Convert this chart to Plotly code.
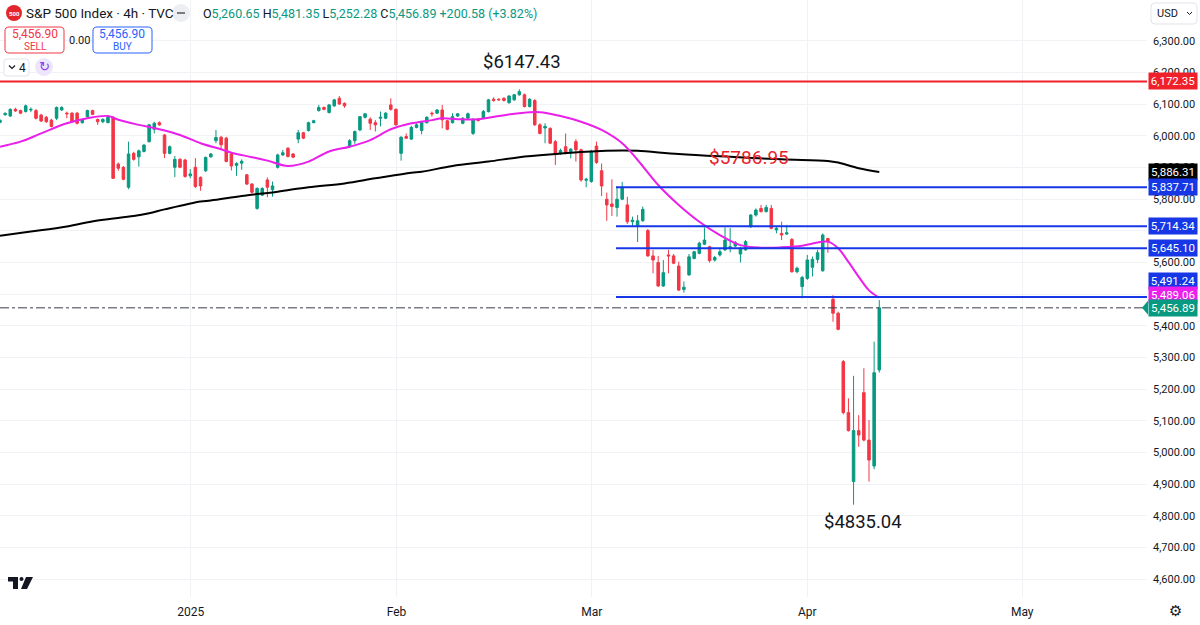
import plotly.graph_objects as go

# 4h bars of the S&P 500, mid Dec 2024 -> 10 Apr 2025 (bar index 0..171)
opens = [6043, 6067, 6063, 6084, 6080, 6077, 6082, 6080, 6066, 6059,
         6050, 6056, 6082, 6072, 6072, 6072, 6042, 6061, 6080, 6052,
         6045, 6042, 6059, 5911, 5901, 5838, 5945, 5934, 5951, 5982,
         6021, 6042, 6003, 5945, 5901, 5926, 5924, 5874, 5901, 5869,
         5890, 5934, 5985, 5996, 5993, 5943, 5907, 5914, 5877, 5848,
         5771, 5813, 5861, 5830, 5901, 5940, 5961, 5943, 5990, 6010,
         6017, 6042, 6080, 6090, 6074, 6095, 6119, 6103, 5966, 5985,
         6019, 6059, 6053, 6042, 6056, 6056, 6098, 6084, 5945, 5998,
         5990, 6027, 6017, 6042, 6072, 6072, 6082, 6048, 6042, 6063,
         6040, 6056, 6008, 6053, 6056, 6077, 6116, 6116, 6119, 6105,
         6114, 6130, 6130, 6093, 6112, 6035, 6025, 6024, 5982, 5945,
         5966, 5950, 5982, 5956, 5860, 5856, 5968, 5890, 5800, 5785,
         5774, 5800, 5782, 5729, 5716, 5732, 5701, 5621, 5600, 5526,
         5624, 5621, 5589, 5515, 5561, 5613, 5629, 5658, 5650, 5608,
         5624, 5640, 5645, 5652, 5627, 5640, 5713, 5750, 5771, 5761,
         5771, 5703, 5692, 5690, 5673, 5571, 5524, 5550, 5585, 5610,
         5574, 5676, 5484, 5440, 5287, 5126, 4908, 5069, 5189, 5039,
         4957, 5260.65]
highs = [6053, 6075, 6087, 6089, 6083, 6099, 6090, 6085, 6070, 6063,
         6054, 6093, 6094, 6077, 6075, 6076, 6055, 6083, 6083, 6055,
         6056, 6062, 6063, 5916, 5905, 5982, 5950, 5957, 5975, 6038,
         6045, 6046, 6006, 5970, 5937, 5930, 5928, 5895, 5930, 5872,
         5935, 5946, 6019, 6000, 5997, 5946, 5917, 5926, 5880, 5851,
         5838, 5838, 5869, 5856, 5944, 5956, 5965, 5946, 6019, 6013,
         6045, 6051, 6098, 6093, 6101, 6117, 6126, 6106, 5990, 6017,
         6063, 6072, 6059, 6050, 6077, 6075, 6119, 6087, 5999, 6008,
         6032, 6040, 6045, 6062, 6077, 6085, 6098, 6051, 6072, 6072,
         6059, 6074, 6056, 6056, 6082, 6117, 6122, 6119, 6122, 6129,
         6133, 6147.43, 6134, 6119, 6116, 6040, 6040, 6027, 5987, 5960,
         6008, 5962, 5990, 5960, 5868, 5956, 5982, 5913, 5821, 5863,
         5840, 5855, 5808, 5745, 5750, 5777, 5706, 5640, 5621, 5608,
         5640, 5627, 5603, 5540, 5627, 5637, 5666, 5711, 5653, 5621,
         5645, 5711, 5709, 5668, 5650, 5671, 5753, 5771, 5782, 5782,
         5782, 5713, 5729, 5719, 5677, 5587, 5558, 5624, 5619, 5640,
         5692, 5678, 5497, 5445, 5292, 5171, 5242, 5118, 5266, 5102,
         5350, 5481.35]
lows = [6040, 6064, 6060, 6076, 6069, 6074, 6075, 6052, 6044, 6041,
        6027, 6050, 6079, 6056, 6042, 6036, 6039, 6058, 6066, 6035,
        6040, 6040, 5864, 5890, 5860, 5832, 5922, 5903, 5948, 5979,
        6008, 6032, 5930, 5942, 5870, 5898, 5868, 5866, 5836, 5827,
        5886, 5931, 5977, 5956, 5917, 5891, 5874, 5893, 5845, 5818,
        5767, 5810, 5806, 5808, 5897, 5937, 5932, 5930, 5977, 5990,
        6014, 6040, 6077, 6081, 6071, 6092, 6098, 6089, 5962, 5975,
        6015, 6055, 6019, 6014, 6030, 6053, 6080, 6032, 5922, 5990,
        5987, 6024, 6005, 6039, 6061, 6069, 6024, 6018, 6039, 6060,
        6037, 6053, 6003, 6045, 6053, 6074, 6108, 6112, 6109, 6102,
        6111, 6127, 6090, 6090, 6032, 6005, 5977, 5974, 5908, 5940,
        5942, 5929, 5919, 5855, 5838, 5852, 5912, 5810, 5732, 5747,
        5745, 5797, 5722, 5713, 5665, 5729, 5618, 5566, 5523, 5523,
        5566, 5595, 5510, 5505, 5558, 5610, 5626, 5655, 5600, 5603,
        5619, 5637, 5632, 5648, 5600, 5637, 5710, 5745, 5758, 5758,
        5705, 5692, 5671, 5687, 5568, 5566, 5487, 5545, 5556, 5598,
        5571, 5631, 5413, 5386, 5120, 5066, 4835.04, 5018, 5035, 4908,
        4947, 5252.28]
closes = [6049, 6071, 6084, 6079, 6072, 6095, 6084, 6056, 6047, 6045,
          6030, 6090, 6090, 6070, 6045, 6040, 6052, 6080, 6068, 6045,
          6052, 6059, 5866, 5898, 5863, 5943, 5926, 5953, 5971, 6035,
          6040, 6035, 5945, 5966, 5926, 5901, 5872, 5880, 5840, 5842,
          5932, 5943, 5995, 5972, 5919, 5905, 5913, 5920, 5848, 5822,
          5834, 5834, 5838, 5842, 5940, 5947, 5935, 5933, 6010, 5993,
          6042, 6048, 6090, 6084, 6098, 6114, 6101, 6095, 5985, 6014,
          6061, 6070, 6040, 6035, 6059, 6072, 6084, 6035, 5996, 5993,
          6027, 6035, 6042, 6059, 6070, 6082, 6051, 6021, 6061, 6070,
          6056, 6070, 6053, 6049, 6077, 6114, 6112, 6114, 6112, 6126,
          6130, 6140, 6093, 6116, 6035, 6008, 6030, 5977, 5945, 5954,
          5945, 5958, 5956, 5861, 5863, 5951, 5916, 5842, 5782, 5777,
          5800, 5838, 5729, 5734, 5732, 5768, 5621, 5608, 5526, 5568,
          5621, 5598, 5513, 5522, 5618, 5634, 5661, 5671, 5606, 5616,
          5634, 5671, 5650, 5663, 5645, 5666, 5750, 5766, 5761, 5774,
          5708, 5708, 5687, 5694, 5571, 5582, 5553, 5608, 5610, 5631,
          5687, 5666, 5440, 5389, 5126, 5069, 5069, 5055, 5039, 4976,
          5252, 5456.89]

# moving averages at these bar indices
ma_fast_idx = [0, 4, 8, 13, 17, 21, 23, 27, 31, 35, 39, 43, 45, 49, 52, 56,
               60, 64, 68, 72, 76, 80, 84, 86, 89, 93, 97, 101, 105, 109, 113,
               117, 121, 124, 128, 132, 136, 140, 144, 148, 152, 156, 159, 161,
               163, 165, 167, 169, 171]
ma_fast = [5966, 5982, 6008, 6040, 6056, 6063, 6051, 6035, 6021, 6003, 5977,
           5958, 5947, 5933, 5922, 5905, 5919, 5951, 5966, 5987, 6021, 6040,
           6050, 6056, 6053, 6053, 6063, 6072, 6075, 6063, 6045, 6019, 5977,
           5924, 5845, 5782, 5729, 5687, 5655, 5647, 5648, 5653, 5663, 5666,
           5645, 5602, 5555, 5512, 5489.06]
ma_slow_idx = [0, 6, 13, 19, 26, 29, 32, 39, 41, 47, 54, 60, 67, 73, 80, 82,
               88, 95, 101, 108, 114, 121, 124, 132, 142, 152, 161, 163, 167, 171]
ma_slow = [5685, 5698, 5714, 5733, 5747, 5756, 5768, 5793, 5796, 5810, 5824,
           5838, 5850, 5866, 5884, 5887, 5905, 5919, 5933, 5943, 5950, 5954,
           5953, 5943, 5934, 5926, 5921, 5916, 5898, 5886.31]

resistance = 6172.35
levels = [5837.71, 5714.34, 5645.10, 5491.24]
note_price = 5786.95
change_text = "+200.58 (+3.82%)"
bid_ask = ["5,456.90", "5,456.90"]

month_pos = [37.1, 77.1, 115.1, 157.0, 198.8]
month_labels = ["2025", "Feb", "Mar", "Apr", "May"]
price_ticks = [4600, 4700, 4800, 4900, 5000, 5100, 5200, 5300, 5400, 5500,
               5600, 5700, 5800, 5900, 6000, 6100, 6200, 6300]
hidden_ticks = [5700]  # covered by the 5,714.34 tag on the price scale

# ---- layout geometry ----
W, H = 1200, 625
R_M, B_M = 53, 28
PW, PH = W - R_M, H - B_M
BAR_PX = 5.142
Y_RANGE = [4543.3, 6429.5]
LEVEL_START = 119.8

GREEN, RED = "#089981", "#f23645"
BLUE, MAGENTA, LINE_RED = "#1737e6", "#ea1fea", "#f0202a"
TXT = "#131722"
FONT = "Roboto"


def px(x):
    return x / PW


def py(y):
    return 1 - y / PH


def rrect(x0, y0, x1, y1, r):
    p = lambda x, y: f"{px(x):.5f},{py(y):.5f}"
    return (f"M{p(x0 + r, y0)} L{p(x1 - r, y0)} Q{p(x1, y0)} {p(x1, y0 + r)} "
            f"L{p(x1, y1 - r)} Q{p(x1, y1)} {p(x1 - r, y1)} L{p(x0 + r, y1)} "
            f"Q{p(x0, y1)} {p(x0, y1 - r)} L{p(x0, y0 + r)} Q{p(x0, y0)} {p(x0 + r, y0)} Z")


def label(x, y, text, size, color=TXT, xanchor="center", family=FONT):
    # text placed by pixel position (centre line at y)
    return dict(xref="paper", yref="paper", x=px(x), y=py(y), text=text,
                xanchor=xanchor, yanchor="middle", showarrow=False,
                font=dict(size=size, color=color, family=family))


fig = go.Figure()

fig.add_trace(go.Scatter(x=ma_slow_idx, y=ma_slow, mode="lines",
                         line=dict(color="#000000", width=2, shape="spline"),
                         hoverinfo="skip"))
fig.add_trace(go.Scatter(x=ma_fast_idx, y=ma_fast, mode="lines",
                         line=dict(color=MAGENTA, width=2, shape="spline"),
                         hoverinfo="skip"))

bars = list(range(len(closes)))
fig.add_trace(go.Candlestick(
    x=bars, open=opens, high=highs, low=lows, close=closes,
    increasing=dict(line=dict(color=GREEN, width=1), fillcolor=GREEN),
    decreasing=dict(line=dict(color=RED, width=1), fillcolor=RED),
    whiskerwidth=0, hoverinfo="skip"))

shapes = []
ann = []

# horizontal levels
shapes.append(dict(type="line", xref="paper", x0=0, x1=1, yref="y",
                   y0=resistance, y1=resistance, line=dict(color=LINE_RED, width=2)))
for lv in levels:
    shapes.append(dict(type="line", xref="x", x0=LEVEL_START, x1=PW / BAR_PX,
                       yref="y", y0=lv, y1=lv, line=dict(color=BLUE, width=2)))
shapes.append(dict(type="line", xref="paper", x0=0, x1=1, yref="y",
                   y0=closes[-1], y1=closes[-1],
                   line=dict(color="#3a3d46", width=1, dash="dashdot")))

# price-scale tags
tags = [(resistance, LINE_RED, 0), (ma_slow[-1], "#000000", 0)]
tags += [(lv, BLUE, 0) for lv in levels[:-1]]
tags += [(levels[-1], BLUE, 16), (ma_fast[-1], MAGENTA, 3), (closes[-1], GREEN, 0)]
for v, c, shift in tags:
    ann.append(dict(xref="paper", x=1, xanchor="left", xshift=1, yref="y", y=v,
                    yanchor="middle", yshift=shift, text=f"{v:,.2f}",
                    showarrow=False, bgcolor=c, width=46, height=14, borderpad=1,
                    font=dict(color="white", size=11.5, family=FONT)))
yl = 41 + (6300 - closes[-1]) / 3.1596
shapes.append(dict(type="path", xref="paper", yref="paper", line_width=0,
                   fillcolor=GREEN,
                   path=f"M{px(1142)},{py(yl)} L{px(1148)},{py(yl - 7)} L{px(1148)},{py(yl + 7)} Z"))

# price notes on the chart
hi = highs.index(max(highs))
lo = lows.index(min(lows))
ann.append(dict(x=hi, y=highs[hi], xshift=3, yshift=27, text=f"${highs[hi]:.2f}",
                xanchor="center", yanchor="middle",
                showarrow=False, font=dict(size=18.5, color=TXT, family=FONT)))
ann.append(dict(x=lo, y=lows[lo], xshift=9, yshift=-17, text=f"${lows[lo]:.2f}",
                xanchor="center", yanchor="middle",
                showarrow=False, font=dict(size=18.5, color=TXT, family=FONT)))
ann.append(label(749, 157, f"${note_price:.2f}", 19, "#e8222a"))

# header: symbol line
shapes.append(dict(type="circle", xref="paper", yref="paper", x0=px(6), x1=px(22),
                   y0=py(5), y1=py(21), fillcolor="#e3262c", line_width=0))
ann.append(label(14, 13, "<b>500</b>", 6, "white"))
ann.append(label(24, 13, "S&amp;P 500 Index · 4h · TVC", 13.5, xanchor="left"))
shapes.append(dict(type="circle", xref="paper", yref="paper", x0=px(172), x1=px(190),
                   y0=py(4), y1=py(22), fillcolor="#eceef2", line_width=0))
shapes.append(dict(type="line", xref="paper", yref="paper", x0=px(177), x1=px(185),
                   y0=py(13), y1=py(13), line=dict(color="#787b86", width=2)))
g = lambda s: f"<span style='color:{GREEN}'>{s}</span>"
ohlc = (f"O{g(f'{opens[-1]:,.2f}')} H{g(f'{highs[-1]:,.2f}')} "
        f"L{g(f'{lows[-1]:,.2f}')} C{g(f'{closes[-1]:,.2f}')} " + g(change_text))
ann.append(label(201, 13, ohlc, 12.5, xanchor="left"))

# sell / buy boxes
shapes.append(dict(type="path", xref="paper", yref="paper", path=rrect(5, 27, 64, 53, 4),
                   line=dict(color=RED, width=1), fillcolor="white"))
shapes.append(dict(type="path", xref="paper", yref="paper", path=rrect(93, 27, 152, 53, 4),
                   line=dict(color="#2962ff", width=1), fillcolor="white"))
for cx, col, word, val in [(35, RED, "SELL", bid_ask[0]), (122, "#2962ff", "BUY", bid_ask[1])]:
    ann.append(label(cx, 34.5, val, 12, col))
    ann.append(label(cx, 46, word, 10, col))
ann.append(label(79, 40, "0.00", 11))

# indicators toggle row
shapes.append(dict(type="path", xref="paper", yref="paper", path=rrect(4, 59, 29, 76, 3),
                   line=dict(color="#e0e3eb", width=1), fillcolor="white"))
shapes.append(dict(type="path", xref="paper", yref="paper", line=dict(color=TXT, width=1.2),
                   path=f"M{px(9)},{py(65.5)} L{px(12)},{py(68.5)} L{px(15)},{py(65.5)}"))
ann.append(label(22.5, 67.5, "4", 12))
shapes.append(dict(type="circle", xref="paper", yref="paper", x0=px(35), x1=px(53),
                   y0=py(58), y1=py(76), fillcolor="#ede5fc", line_width=0))
ann.append(label(44, 67, "↻", 13, "#8a3ff0", family="DejaVu Sans"))

# currency selector, logo, gear
shapes.append(dict(type="path", xref="paper", yref="paper", path=rrect(1151, 3, 1197, 24, 4),
                   line=dict(color="#e0e3eb", width=1), fillcolor="white"))
ann.append(label(1155, 13.5, "USD", 11, xanchor="left"))
shapes.append(dict(type="path", xref="paper", yref="paper", line=dict(color=TXT, width=1),
                   path=f"M{px(1187)},{py(12)} L{px(1189.5)},{py(14.5)} L{px(1192)},{py(12)}"))
shapes.append(dict(type="path", xref="paper", yref="paper", fillcolor=TXT, line_width=0,
                   path=f"M{px(8)},{py(577)} L{px(18)},{py(577)} L{px(18)},{py(589)} "
                        f"L{px(13)},{py(589)} L{px(13)},{py(581.5)} L{px(8)},{py(581.5)} Z"))
shapes.append(dict(type="circle", xref="paper", yref="paper", fillcolor=TXT, line_width=0,
                   x0=px(19.5), x1=px(23.5), y0=py(577), y1=py(581)))
shapes.append(dict(type="path", xref="paper", yref="paper", fillcolor=TXT, line_width=0,
                   path=f"M{px(26)},{py(577)} L{px(33)},{py(577)} L{px(27)},{py(589)} "
                        f"L{px(21)},{py(589)} Z"))
ann.append(label(1175, 611, "⚙", 15, family="DejaVu Sans"))

tick_text = ["" if t in hidden_ticks else f"{t:,.2f}" for t in price_ticks]

fig.update_layout(
    width=W, height=H,
    margin=dict(l=0, r=R_M, t=0, b=B_M),
    paper_bgcolor="white", plot_bgcolor="white",
    showlegend=False,
    shapes=shapes, annotations=ann,
    font=dict(family=FONT, color=TXT),
    xaxis=dict(range=[0, PW / BAR_PX], tickmode="array", tickvals=month_pos,
               ticktext=month_labels, showgrid=True, gridcolor="#f0f2f6",
               zeroline=False, showline=False, ticks="", ticklabelstandoff=6,
               tickfont=dict(size=12, color=TXT, family=FONT),
               rangeslider=dict(visible=False), fixedrange=True),
    yaxis=dict(range=Y_RANGE, side="right", tickmode="array", tickvals=price_ticks,
               ticktext=tick_text, showgrid=True, gridcolor="#f0f2f6",
               zeroline=False, showline=False, ticks="", ticklabelstandoff=5,
               tickfont=dict(size=11, color=TXT, family=FONT), fixedrange=True),
)

fig.write_html("out.html", config={"displayModeBar": False},
               post_script="document.body.style.margin='0';")
